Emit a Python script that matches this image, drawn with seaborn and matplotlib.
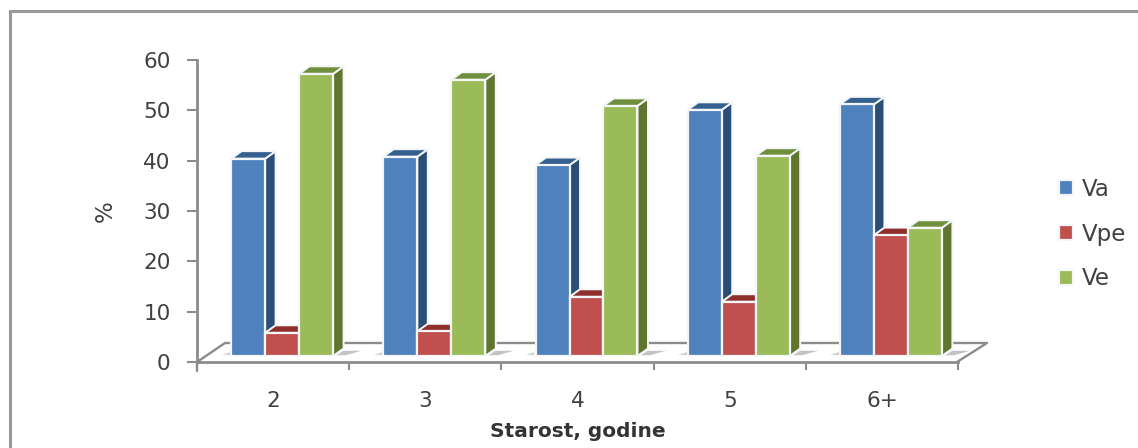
import matplotlib
matplotlib.use("Agg")
import matplotlib.pyplot as plt
from matplotlib.patches import Polygon
import pandas as pd
import seaborn as sns

ages = ["2", "3", "4", "5", "6+"]
va = [40, 40.4, 38.7, 49.9, 51]
vpe = [4.7, 5, 12, 11, 24.5]
ve = [57.2, 56, 50.7, 40.6, 26]
series_names = ["Va", "Vpe", "Ve"]
y_ticks = [0, 10, 20, 30, 40, 50, 60]
front_colors = ["#4F81BD", "#C0504D", "#9BBB59"]
side_colors = ["#2C4D75", "#772C2A", "#5F7530"]
top_colors = ["#33608F", "#8E2F2C", "#6E8F3B"]

W, H = 1138, 448
AXC = "#8C8C8C"
TXT = "#404040"


def px_rect(l, t, r, b):
    return [l / W, 1 - b / H, (r - l) / W, (b - t) / H]


df = pd.DataFrame({
    "age": ages * 3,
    "value": va + vpe + ve,
    "series": sum([[s] * len(ages) for s in series_names], []),
})

sns.set_theme(style="white")
plt.rcParams["font.family"] = ["DejaVu Sans"]
fig = plt.figure(figsize=(W / 100, H / 100), dpi=100, facecolor="white")

# page furniture: outer frame and floor, in pixel coordinates
bg = fig.add_axes([0, 0, 1, 1], zorder=0)
bg.set_xlim(0, W)
bg.set_ylim(H, 0)
bg.axis("off")
bg.plot([10.5, 10.5, W], [H, 11.5, 11.5], color="#999999", lw=2.2, solid_joinstyle="miter")
bg.plot([197, 225, 987, 957], [362, 343, 343, 362], color=AXC, lw=1.7)
bg.plot([197, 197], [362, 371], color=AXC, lw=1.7)

# front axis
axf = fig.add_axes(px_rect(197, 60, 958, 362), zorder=1)
axf.patch.set_alpha(0)
axf.set_xlim(-0.5, 4.5)
axf.set_ylim(0, 60)
axf.set_yticks(y_ticks)
axf.set_xticks([i - 0.5 for i in range(len(ages) + 1)])
axf.set_xticklabels([])
axf.set_xticks(range(len(ages)), labels=ages, minor=True)
for s in ("top", "right"):
    axf.spines[s].set_visible(False)
for s in ("left", "bottom"):
    axf.spines[s].set_color(AXC)
    axf.spines[s].set_linewidth(2.0)
axf.tick_params(axis="y", length=7, width=1.5, color=AXC, pad=12, labelsize=15.5, labelcolor=TXT, left=True)
axf.tick_params(axis="x", which="major", length=6, width=1.5, color=AXC, bottom=True)
axf.tick_params(axis="x", which="minor", length=0, pad=21, labelsize=15.5, labelcolor=TXT)
axf.set_ylabel("%", fontsize=16.5, color=TXT, labelpad=19)
axf.set_xlabel("Starost, godine", fontsize=14.5, fontweight="bold", color="#333333",
              family="DejaVu Sans", labelpad=8)

# bars, on the plane set back by the chart's depth
ax = fig.add_axes(px_rect(206, 60, 967, 356), zorder=2)
ax.patch.set_alpha(0)
sns.barplot(data=df, x="age", y="value", hue="series", order=ages, hue_order=series_names,
            palette=front_colors, saturation=1, width=0.67, gap=0, edgecolor="#F4F6F8",
            linewidth=1.6, ax=ax, zorder=5)
ax.set_xlim(-0.5, 4.5)
ax.set_ylim(0, 60)
ax.set_xticks([])
ax.set_yticks([])
ax.set_xlabel("")
ax.set_ylabel("")
sns.despine(ax=ax, left=True, bottom=True)

dx = 10.5 / (761 / 5)
dy = 7.5 / (296 / 60)
for k, cont in enumerate(ax.containers):
    for bar in cont:
        x0, x1 = bar.get_x(), bar.get_x() + bar.get_width()
        h = bar.get_height()
        ax.add_patch(Polygon([(x1, 0), (x1, h), (x1 + dx, h + dy), (x1 + dx, dy)], closed=True,
                             facecolor=side_colors[k], edgecolor="#F4F6F8", lw=1.4,
                             zorder=2 + k * 0.1, clip_on=False))
        ax.add_patch(Polygon([(x0, h), (x1, h), (x1 + dx, h + dy), (x0 + dx, h + dy)], closed=True,
                             facecolor=top_colors[k], edgecolor="#F4F6F8", lw=1.4,
                             zorder=2 + k * 0.1, clip_on=False))
        if k == 2:
            ax.add_patch(Polygon([(x1 + dx * 0.3, 0.15), (x1 + dx * 1.0, dy * 0.7), (x1 + dx * 2.7, dy * 0.7),
                                  (x1 + dx * 1.2, 0.15)], closed=True, facecolor="#C4C4C4",
                                 edgecolor="none", zorder=1.5, clip_on=False))
        if k == 0:
            ax.add_patch(Polygon([(x0 - dx * 0.9, 0.2), (x0 - dx * 0.1, 0.2), (x0 - dx * 0.1, dy * 0.5)],
                                 closed=True, facecolor="#D2D2D2", edgecolor="none",
                                 zorder=1.5, clip_on=False))

sns.move_legend(ax, loc="center left", bbox_to_anchor=((1058.5 - 206) / 761, (356 - 234.2) / 296),
                frameon=False, title=None, fontsize=16.5, labelspacing=0.95,
                handlelength=0.62, handleheight=0.62, handletextpad=0.4, labelcolor=TXT,
                borderpad=0, borderaxespad=0)

fig.savefig("out.png", dpi=100, facecolor="white")
